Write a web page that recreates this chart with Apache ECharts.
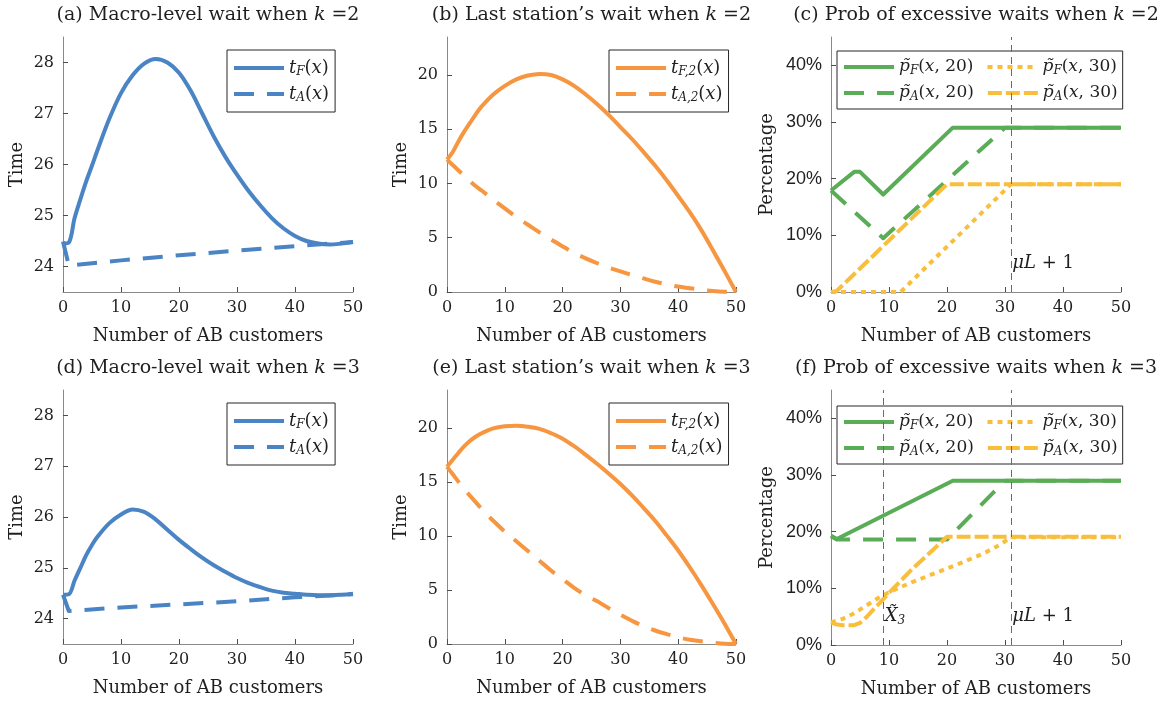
<!DOCTYPE html>
<html>
<head>
<meta charset="utf-8">
<script src="https://cdn.jsdelivr.net/npm/echarts@6/dist/echarts.min.js"></script>
<style>
html, body { margin: 0; padding: 0; background: #fff; }
#main { width: 1164px; height: 701px; }
</style>
</head>
<body>
<div id="main"></div>
<script>
// ---- data ----
const xTicks = [0, 10, 20, 30, 40, 50];
const yTicksMacro = [24, 25, 26, 27, 28];
const yTicksLast = [0, 5, 10, 15, 20];
const yTicksPct = [0, 10, 20, 30, 40];

// shared x grid for the smooth curves
const xCurve = [0, 1, 2, 3, 4, 5, 6, 8, 10, 12, 14, 16, 18, 20, 22, 24, 26, 28, 30, 32, 34, 36, 38, 40, 42, 44, 46, 48, 50];

// (a) k = 2, macro-level wait
const tF_k2 = [24.45, 24.47, 24.95, 25.32, 25.67, 25.98, 26.3, 26.9, 27.4, 27.75, 27.98, 28.07, 28.0, 27.8, 27.45, 27.0, 26.55, 26.15, 25.8, 25.48, 25.2, 24.95, 24.75, 24.6, 24.5, 24.45, 24.43, 24.45, 24.48];
const xTA = [0, 1, 10, 20, 30, 40, 50];
const tA_k2 = [24.49, 24.02, 24.12, 24.22, 24.31, 24.4, 24.48];

// (d) k = 3, macro-level wait
const tF_k3 = [24.47, 24.48, 24.75, 25.0, 25.25, 25.45, 25.62, 25.88, 26.05, 26.15, 26.1, 25.95, 25.75, 25.55, 25.37, 25.2, 25.05, 24.92, 24.8, 24.7, 24.62, 24.55, 24.51, 24.49, 24.47, 24.46, 24.46, 24.47, 24.49];
const tA_k3 = [24.47, 24.15, 24.22, 24.28, 24.34, 24.42, 24.48];

// (b) k = 2, last station's wait
const tF2_k2 = [12.2, 12.9, 13.9, 14.8, 15.6, 16.4, 17.1, 18.2, 19.0, 19.6, 19.95, 20.1, 20.0, 19.6, 19.0, 18.2, 17.3, 16.3, 15.2, 14.1, 12.9, 11.65, 10.3, 8.85, 7.35, 5.7, 3.85, 1.95, 0];
const tA2_k2 = [12.2, 11.7, 11.2, 10.7, 10.2, 9.75, 9.35, 8.5, 7.7, 6.9, 6.2, 5.5, 4.85, 4.2, 3.6, 3.1, 2.65, 2.25, 1.9, 1.55, 1.25, 0.95, 0.7, 0.5, 0.35, 0.2, 0.1, 0.03, 0];

// (e) k = 3, last station's wait
const tF2_k3 = [16.4, 17.05, 17.7, 18.3, 18.8, 19.2, 19.5, 19.95, 20.15, 20.2, 20.1, 19.9, 19.5, 19.0, 18.3, 17.5, 16.65, 15.75, 14.8, 13.75, 12.6, 11.4, 10.05, 8.65, 7.1, 5.45, 3.7, 1.9, 0];
const tA2_k3 = [16.4, 15.7, 15.0, 14.35, 13.7, 13.1, 12.5, 11.4, 10.4, 9.5, 8.6, 7.7, 6.8, 6.0, 5.2, 4.5, 3.95, 3.3, 2.7, 2.15, 1.65, 1.25, 0.92, 0.62, 0.4, 0.25, 0.12, 0.03, 0];

// (c) k = 2, probabilities (%)
const xPF20_k2 = [0, 4, 5, 9, 21, 50];
const pF20_k2 = [17.9, 21.2, 21.2, 17.2, 29, 29];
const xPA20_k2 = [0, 9, 30, 50];
const pA20_k2 = [17.9, 9.5, 29, 29];
const xPF30_k2 = [0, 12, 31, 50];
const pF30_k2 = [0, 0, 19, 19];
const xPA30_k2 = [0, 1, 20, 50];
const pA30_k2 = [0, 0.2, 19, 19];

// (f) k = 3, probabilities (%)
const xPF20_k3 = [0, 1, 21, 50];
const pF20_k3 = [19.3, 18.7, 29, 29];
const xPA20_k3 = [0, 1, 20, 30, 50];
const pA20_k3 = [19.2, 18.6, 18.6, 29, 29];
const xPF30_k3 = [0, 2, 4, 6, 8, 10, 14, 18, 22, 26, 29, 31, 50];
const pF30_k3 = [4.0, 4.6, 5.6, 6.9, 8.2, 9.3, 11.1, 12.7, 14.3, 16.0, 17.6, 19, 19];
const xPA30_k3 = [0, 1, 2, 4, 5, 6, 8, 10, 14, 20, 50];
const pA30_k3 = [4.0, 3.6, 3.5, 3.5, 3.9, 4.8, 7.0, 9.2, 13.4, 19.1, 19.1];

const muL1 = 31;   // mu L + 1
const X3 = 9;      // X tilde 3

// ---- styling ----
const SERIF = "'DejaVu Serif', serif";
const SANS = "'Liberation Sans', Arial, sans-serif";
const BLUE = '#4A84C4', ORANGE = '#F79640', GREEN = '#5AAC57', YELLOW = '#F8BE3C';
const TXT = '#1f1f1f';
const DASH = [20, 13], DOT = [5, 5], DASH2 = [14, 4];

function pairs(xs, ys) {
  return xs.map(function (x, i) { return [x, ys[i]]; });
}

function makeRich(size) {
  return {
    n: { fontFamily: SERIF, fontSize: size, fontWeight: 'normal', color: TXT, lineHeight: 18 },
    i: { fontFamily: SERIF, fontSize: size, fontWeight: 'normal', fontStyle: 'italic', color: TXT, lineHeight: 18 },
    s: { fontFamily: SERIF, fontSize: 12, fontWeight: 'normal', fontStyle: 'italic', color: TXT, lineHeight: 10, padding: [8, 0, 0, 0] },
    gap: { width: 6, lineHeight: 18 }
  };
}
const mathRich = makeRich(18);
const mathRichSmall = makeRich(17);
const titleRich = {
  n: { fontFamily: SERIF, fontSize: 19, fontWeight: 'normal', color: TXT },
  i: { fontFamily: SERIF, fontSize: 19, fontWeight: 'normal', fontStyle: 'italic', color: TXT }
};

const legendText = {
  tF_a: '{i|t}{s|F}{n|(}{i|x}{n|)}',
  tA_a: '{i|t}{s|A}{n|(}{i|x}{n|)}',
  tF_d: '{i|t}{s|F}{n|(}{i|x}{n|)}',
  tA_d: '{i|t}{s|A}{n|(}{i|x}{n|)}',
  tF2_b: '{i|t}{s|F,2}{n|(}{i|x}{n|)}',
  tA2_b: '{i|t}{s|A,2}{n|(}{i|x}{n|)}',
  tF2_e: '{i|t}{s|F,2}{n|(}{i|x}{n|)}',
  tA2_e: '{i|t}{s|A,2}{n|(}{i|x}{n|)}',
  pF20_c: '{i|p\u0303}{s|F}{n|(}{i|x}{n|, 20)}{gap|}',
  pA20_c: '{i|p\u0303}{s|A}{n|(}{i|x}{n|, 20)}{gap|}',
  pF30_c: '{i|p\u0303}{s|F}{n|(}{i|x}{n|, 30)}',
  pA30_c: '{i|p\u0303}{s|A}{n|(}{i|x}{n|, 30)}',
  pF20_f: '{i|p\u0303}{s|F}{n|(}{i|x}{n|, 20)}{gap|}',
  pA20_f: '{i|p\u0303}{s|A}{n|(}{i|x}{n|, 20)}{gap|}',
  pF30_f: '{i|p\u0303}{s|F}{n|(}{i|x}{n|, 30)}',
  pA30_f: '{i|p\u0303}{s|A}{n|(}{i|x}{n|, 30)}'
};

const grids = [
  { left: 63, top: 37, width: 290, height: 255 },
  { left: 447, top: 37, width: 289, height: 255 },
  { left: 831, top: 37, width: 290, height: 255 },
  { left: 63, top: 390, width: 290, height: 254 },
  { left: 447, top: 390, width: 289, height: 254 },
  { left: 831, top: 390, width: 290, height: 255 }
];

const titles = [
  ['{n|(a) Macro-level wait when }{i|k}{n| =2}', 0],
  ['{n|(b) Last station\u2019s wait when }{i|k}{n| =2}', 1],
  ['{n|(c) Prob of excessive waits when }{i|k}{n| =2}', 2],
  ['{n|(d) Macro-level wait when }{i|k}{n| =3}', 3],
  ['{n|(e) Last station\u2019s wait when }{i|k}{n| =3}', 4],
  ['{n|(f) Prob of excessive waits when }{i|k}{n| =3}', 5]
].map(function (t) {
  const g = grids[t[1]];
  return {
    text: t[0], left: g.left + g.width / 2, top: t[1] < 3 ? 6 : 359,
    textAlign: 'center', padding: 0,
    textStyle: { fontWeight: 'normal', rich: titleRich }
  };
});

const axisLineStyle = { lineStyle: { color: '#8a8a8a', width: 1 } };
const tickStyle = { inside: true, length: 5, lineStyle: { color: '#4d4d4d', width: 1 } };

const xAxes = grids.map(function (g, i) {
  return {
    type: 'value', gridIndex: i, min: 0, max: 50, interval: 10,
    name: 'Number of AB customers', nameLocation: 'middle', nameGap: 35,
    nameTextStyle: { fontFamily: SERIF, fontSize: 18, color: TXT },
    axisLine: axisLineStyle, axisTick: tickStyle,
    axisLabel: { fontFamily: SERIF, fontSize: 16, color: TXT, margin: 8 },
    splitLine: { show: false }
  };
});

function yAxis(i, min, max, ticks, name, pct) {
  return {
    type: 'value', gridIndex: i, min: min, max: max,
    name: name, nameLocation: 'middle', nameGap: pct ? 55 : 37,
    nameTextStyle: { fontFamily: SERIF, fontSize: 18, color: TXT },
    axisLine: { show: true, lineStyle: { color: '#8a8a8a', width: 1 } },
    axisTick: Object.assign({ customValues: ticks }, tickStyle),
    axisLabel: {
      customValues: ticks, margin: 9, color: TXT,
      fontFamily: pct ? SANS : SERIF, fontSize: pct ? 18 : 16,
      formatter: pct ? function (v) { return v + '%'; } : function (v) { return String(v); }
    },
    splitLine: { show: false }
  };
}
const yAxes = [
  yAxis(0, 23.5, 28.5, yTicksMacro, 'Time', false),
  yAxis(1, 0, 23.5, yTicksLast, 'Time', false),
  yAxis(2, 0, 45, yTicksPct, 'Percentage', true),
  yAxis(3, 23.5, 28.5, yTicksMacro, 'Time', false),
  yAxis(4, 0, 23.5, yTicksLast, 'Time', false),
  yAxis(5, 0, 45, yTicksPct, 'Percentage', true)
];

function line(name, idx, xs, ys, color, dash, smooth) {
  return {
    type: 'line', name: name, xAxisIndex: idx, yAxisIndex: idx,
    data: pairs(xs, ys), symbol: 'none', smooth: smooth ? 0.35 : false, clip: true,
    lineStyle: { color: color, width: 4, type: dash || 'solid', cap: 'butt', join: 'round' },
    itemStyle: { color: color },
    emphasis: { disabled: true }
  };
}

function vline(xs) {
  return {
    silent: true, symbol: ['none', 'none'], label: { show: false },
    lineStyle: { color: '#6b6b6b', width: 1, type: [7, 5] },
    data: xs.map(function (x) { return { xAxis: x }; })
  };
}
function notes(items) {
  return {
    silent: true, symbol: 'rect', symbolSize: 1,
    itemStyle: { color: 'rgba(0,0,0,0)' },
    label: { show: true, position: 'right', distance: 1, rich: mathRich },
    data: items.map(function (it) {
      return { coord: [it[0], it[1]], label: { formatter: it[2] } };
    })
  };
}

const sC0 = line('pF20_c', 2, xPF20_k2, pF20_k2, GREEN, null);
sC0.markLine = vline([muL1]);
sC0.markPoint = notes([[muL1, 5.1, '{i|\u03bcL}{n| + 1}']]);
const sF0 = line('pF20_f', 5, xPF20_k3, pF20_k3, GREEN, null);
sF0.markLine = vline([X3, muL1]);
sF0.markPoint = notes([[X3, 5.0, '{i|X\u0303}{s|3}'], [muL1, 5.0, '{i|\u03bcL}{n| + 1}']]);

const series = [
  line('tF_a', 0, xCurve, tF_k2, BLUE, null, true),
  line('tA_a', 0, xTA, tA_k2, BLUE, DASH),
  line('tF2_b', 1, xCurve, tF2_k2, ORANGE, null, true),
  line('tA2_b', 1, xCurve, tA2_k2, ORANGE, DASH, true),
  sC0,
  line('pA20_c', 2, xPA20_k2, pA20_k2, GREEN, DASH),
  line('pF30_c', 2, xPF30_k2, pF30_k2, YELLOW, DOT),
  line('pA30_c', 2, xPA30_k2, pA30_k2, YELLOW, DASH2),
  line('tF_d', 3, xCurve, tF_k3, BLUE, null, true),
  line('tA_d', 3, xTA, tA_k3, BLUE, DASH),
  line('tF2_e', 4, xCurve, tF2_k3, ORANGE, null, true),
  line('tA2_e', 4, xCurve, tA2_k3, ORANGE, DASH, true),
  sF0,
  line('pA20_f', 5, xPA20_k3, pA20_k3, GREEN, DASH),
  line('pF30_f', 5, xPF30_k3, pF30_k3, YELLOW, DOT),
  line('pA30_f', 5, xPA30_k3, pA30_k3, YELLOW, DASH2)
];

function legend(names, left, top, horizontal) {
  const l = {
    data: names, left: left, top: top,
    orient: horizontal ? 'horizontal' : 'vertical',
    itemWidth: 50, itemHeight: 14, itemGap: 6,
    padding: horizontal ? [6, 5, 6, 5] : [8, 6, 8, 5], selectedMode: false,
    backgroundColor: '#fff', borderColor: '#262626', borderWidth: 1, borderRadius: 0,
    itemStyle: { opacity: 0 },
    lineStyle: { width: 4 },
    formatter: function (n) { return legendText[n]; },
    textStyle: { rich: horizontal ? mathRichSmall : mathRich }
  };
  if (horizontal) l.width = 300;
  return l;
}

const option = {
  animation: false,
  backgroundColor: '#fff',
  title: titles,
  grid: grids,
  xAxis: xAxes,
  yAxis: yAxes,
  legend: [
    legend(['tF_a', 'tA_a'], 227, 50),
    legend(['tF2_b', 'tA2_b'], 609, 50),
    legend(['pF20_c', 'pF30_c', 'pA20_c', 'pA30_c'], 837, 51, true),
    legend(['tF_d', 'tA_d'], 227, 403),
    legend(['tF2_e', 'tA2_e'], 609, 403),
    legend(['pF20_f', 'pF30_f', 'pA20_f', 'pA30_f'], 837, 406, true)
  ],
  series: series
};

const myChart = echarts.init(document.getElementById('main'));
myChart.setOption(option);
</script>
</body>
</html>
